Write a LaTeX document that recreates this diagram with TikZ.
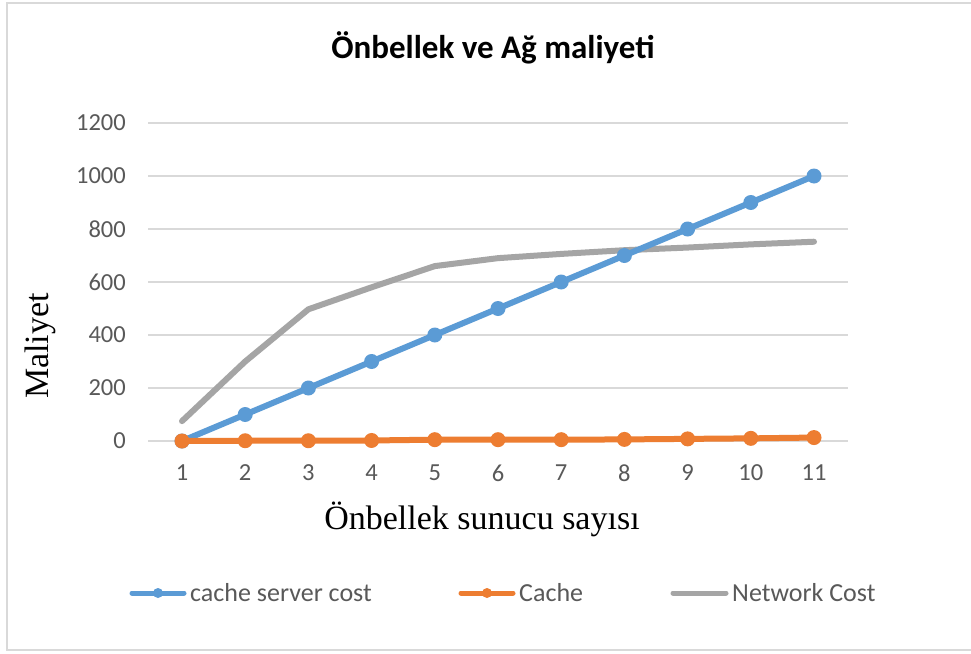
\documentclass[tikz,border=0pt]{standalone}
\usepackage{fontspec}
\setmainfont{Carlito}
\newfontfamily\axisfont{Liberation Serif}
\definecolor{sercol}{HTML}{5B9BD5}
\definecolor{cachecol}{HTML}{ED7D31}
\definecolor{netcol}{HTML}{A5A5A5}
\definecolor{gridcol}{HTML}{D9D9D9}
\definecolor{ticktext}{HTML}{595959}
\begin{document}
\begin{tikzpicture}[x=1pt,y=-1pt,
  ticklbl/.style={text=ticktext,font=\fontsize{24.5}{24.5}\selectfont,inner sep=0pt},
  legendlbl/.style={text=ticktext,font=\fontsize{26}{26}\selectfont,inner sep=0pt,anchor=west},
  gridline/.style={draw=gridcol,line width=1.6pt},
  series/.style={line width=6pt,line cap=round,line join=round},
  legline/.style={line width=5pt,line cap=round},
  dot/.style={circle,inner sep=0pt,minimum size=15pt},
  legdot/.style={circle,inner sep=0pt,minimum size=10pt}]
\useasboundingbox (0,0) rectangle (971,653);
\fill[white] (0,0) rectangle (971,653);
% chart frame (left, top and bottom edges)
\draw[gridcol,line width=2pt] (971,3) -- (7,3) -- (7,650) -- (971,650);

% title
\node[font=\bfseries\fontsize{33}{33}\selectfont,inner sep=0pt] (title) at (493,48) {Önbellek ve Ağ maliyeti};

% horizontal grid lines and value labels
\foreach \v/\yy in {0/441,200/388,400/335,600/282,800/229,1000/176,1200/123}{
  \draw[gridline] (148,\yy) -- (848,\yy);
  \node[ticklbl,anchor=east] (yt\v) at (126,\yy) {\v};
}
% category labels
\foreach \i in {1,...,11}{
  \node[ticklbl] (xt\i) at ({182+(\i-1)*63.2},473) {\i};
}

% axis titles
\node[font=\axisfont\fontsize{34}{34}\selectfont,rotate=90,inner sep=0pt] (ylab) at (40,346) {Maliyet};
\node[font=\axisfont\fontsize{34}{34}\selectfont,inner sep=0pt] (xlab) at (482,519) {Önbellek sunucu sayısı};

% data series, in axis units
\begin{scope}[shift={(118.8pt,-441pt)},x=63.2pt,y=0.265pt]
  \draw[series,netcol] plot coordinates {(1,75) (2,300) (3,497) (4,580) (5,660) (6,690) (7,706) (8,720) (9,730) (10,742) (11,752)};
  \draw[series,sercol] plot coordinates {(1,0) (2,100) (3,200) (4,300) (5,400) (6,500) (7,600) (8,700) (9,800) (10,900) (11,1000)};
  \foreach \i/\v in {1/0,2/100,3/200,4/300,5/400,6/500,7/600,8/700,9/800,10/900,11/1000}
    \node[dot,fill=sercol] (s\i) at (\i,\v) {};
  \draw[series,cachecol] plot coordinates {(1,0) (2,1) (3,1) (4,2) (5,5) (6,5) (7,5) (8,6) (9,8) (10,10) (11,13)};
  \foreach \i/\v in {1/0,2/1,3/1,4/2,5/5,6/5,7/5,8/6,9/8,10/10,11/13}
    \node[dot,fill=cachecol] (c\i) at (\i,\v) {};
\end{scope}

% legend
\coordinate (l1a) at (132,593); \coordinate (l1b) at (184,593);
\draw[legline,sercol] (l1a) -- (l1b);
\node[legdot,fill=sercol] (lm1) at (158,593) {};
\node[legendlbl] (lt1) at (190,593) {cache server cost};
\coordinate (l2a) at (461,593); \coordinate (l2b) at (513,593);
\draw[legline,cachecol] (l2a) -- (l2b);
\node[legdot,fill=cachecol] (lm2) at (487,593) {};
\node[legendlbl] (lt2) at (519,593) {Cache};
\coordinate (l3a) at (673,593); \coordinate (l3b) at (726,593);
\draw[legline,netcol] (l3a) -- (l3b);
\node[legendlbl] (lt3) at (732,593) {Network Cost};
\end{tikzpicture}
\end{document}
